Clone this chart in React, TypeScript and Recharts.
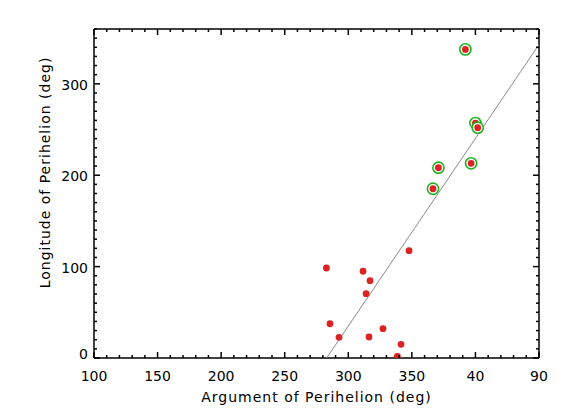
import React from 'react';
import { ScatterChart, Scatter, XAxis, YAxis } from 'recharts';

// Argument of perihelion (deg, unwrapped past 360) and longitude of perihelion (deg)
const plainArg = [282.8, 311.6, 317.1, 314.0, 347.8, 285.6, 292.7, 316.3, 327.3, 341.5, 338.6];
const plainLon = [98.5, 94.9, 84.6, 70.4, 117.4, 37.5, 22.6, 23.0, 32.1, 15.0, 1.8];

const circledArg = [392.1, 400.0, 401.8, 370.9, 396.6, 366.6];
const circledLon = [337.7, 257.1, 252.0, 208.2, 213.0, 185.2];

const fitArg = [283, 450];
const fitLon = [0, 343];

const xDomain = [100, 450];
const yDomain = [0, 360];
const xMajorTicks = [100, 150, 200, 250, 300, 350, 400, 450];
const xTickLabels = ['100', '150', '200', '250', '300', '350', '40', '90'];
const yMajorTicks = [0, 100, 200, 300];
const yTickLabels = ['0', '100', '200', '300'];

const xTitle = 'Argument of Perihelion (deg)';
const yTitle = 'Longitude of Perihelion (deg)';

const plainData = plainArg.map((x, i) => ({ x, y: plainLon[i] }));
const circledData = circledArg.map((x, i) => ({ x, y: circledLon[i] }));
const fitData = fitArg.map((x, i) => ({ x, y: fitLon[i] }));

const range = (a: number, b: number, s: number) => {
  const out: number[] = [];
  for (let v = a; v <= b + 1e-9; v += s) out.push(v);
  return out;
};
const xAllTicks = range(xDomain[0], xDomain[1], 10);
const yAllTicks = range(yDomain[0], yDomain[1], 10);

const FONT = 'DejaVu Sans, sans-serif';
const RED = '#dc2323';
const GREEN = '#21b121';
const MAJOR = 6;
const MINOR = 3;

const xLabelOf = (v: number) => {
  const i = xMajorTicks.indexOf(v);
  return i >= 0 ? xTickLabels[i] : null;
};
const yLabelOf = (v: number) => {
  const i = yMajorTicks.indexOf(v);
  return i >= 0 ? yTickLabels[i] : null;
};

const BottomTick = (props: any) => {
  const { x, y, payload } = props;
  const lab = xLabelOf(payload.value);
  const len = lab !== null ? MAJOR : MINOR;
  return (
    <g>
      <line x1={x} x2={x} y1={y} y2={y - len} stroke="#000" strokeWidth={1.5} />
      {lab !== null && (
        <text x={x} y={y + 23} textAnchor="middle" fontFamily={FONT} fontSize={14} fill="#000">
          {lab}
        </text>
      )}
    </g>
  );
};

const TopTick = (props: any) => {
  const { x, y, payload } = props;
  const len = xLabelOf(payload.value) !== null ? MAJOR : MINOR;
  return <line x1={x} x2={x} y1={y} y2={y + len} stroke="#000" strokeWidth={1.5} />;
};

const LeftTick = (props: any) => {
  const { x, y, payload } = props;
  const lab = yLabelOf(payload.value);
  const len = lab !== null ? MAJOR : MINOR;
  const dy = payload.value === yDomain[0] ? 1 : 6;
  return (
    <g>
      <line x1={x} x2={x + len} y1={y} y2={y} stroke="#000" strokeWidth={1.5} />
      {lab !== null && (
        <text x={x - 6} y={y + dy} textAnchor="end" fontFamily={FONT} fontSize={14} fill="#000">
          {lab}
        </text>
      )}
    </g>
  );
};

const RightTick = (props: any) => {
  const { x, y, payload } = props;
  const len = yLabelOf(payload.value) !== null ? MAJOR : MINOR;
  return <line x1={x} x2={x - len} y1={y} y2={y} stroke="#000" strokeWidth={1.5} />;
};

const PlainDot = (props: any) => {
  const { cx, cy } = props;
  return <circle cx={cx} cy={cy} r={3.4} fill={RED} />;
};

const CircledDot = (props: any) => {
  const { cx, cy } = props;
  return (
    <g>
      <circle cx={cx} cy={cy} r={5.6} fill="#fff" stroke={GREEN} strokeWidth={1.6} />
      <circle cx={cx} cy={cy} r={3.4} fill={RED} />
    </g>
  );
};

const NoDot = () => <g />;

const YTitle = (props: any) => {
  const vb = props.viewBox || {};
  const cx = vb.x + 11;
  const cy = vb.y + vb.height / 2 - 21;
  return (
    <text
      x={cx}
      y={cy}
      transform={`rotate(-90, ${cx}, ${cy})`}
      textAnchor="middle"
      dominantBaseline="central"
      fontFamily={FONT}
      fontSize={14}
      letterSpacing={1}
      fill="#000"
    >
      {yTitle}
    </text>
  );
};

const XTitle = (props: any) => {
  const vb = props.viewBox || {};
  const cx = vb.x + vb.width / 2;
  const cy = vb.y + 39;
  return (
    <text
      x={cx}
      y={cy}
      textAnchor="middle"
      dominantBaseline="central"
      fontFamily={FONT}
      fontSize={14}
      letterSpacing={1}
      fill="#000"
    >
      {xTitle}
    </text>
  );
};

export default function App() {
  return (
    <div style={{ position: 'absolute', left: 0, top: 0, width: 568, height: 419, background: '#fff' }}>
      <ScatterChart width={568} height={419} margin={{ top: 28, right: 28, bottom: 11, left: 34 }}>
        <XAxis
          xAxisId="b"
          dataKey="x"
          type="number"
          domain={xDomain}
          ticks={xAllTicks}
          interval={0}
          allowDataOverflow
          orientation="bottom"
          height={50}
          tickSize={0}
          tickMargin={0}
          tickLine={false}
          axisLine={{ stroke: '#000', strokeWidth: 1.5 }}
          tick={<BottomTick />}
          label={<XTitle />}
        />
        <XAxis
          xAxisId="t"
          dataKey="x"
          type="number"
          domain={xDomain}
          ticks={xAllTicks}
          interval={0}
          allowDataOverflow
          orientation="top"
          height={1}
          tickSize={0}
          tickMargin={0}
          tickLine={false}
          axisLine={{ stroke: '#000', strokeWidth: 1.5 }}
          tick={<TopTick />}
        />
        <YAxis
          yAxisId="l"
          dataKey="y"
          type="number"
          domain={yDomain}
          ticks={yAllTicks}
          interval={0}
          allowDataOverflow
          orientation="left"
          width={60}
          tickSize={0}
          tickMargin={0}
          tickLine={false}
          axisLine={{ stroke: '#000', strokeWidth: 1.5 }}
          tick={<LeftTick />}
          label={<YTitle />}
        />
        <YAxis
          yAxisId="r"
          dataKey="y"
          type="number"
          domain={yDomain}
          ticks={yAllTicks}
          interval={0}
          allowDataOverflow
          orientation="right"
          width={1}
          tickSize={0}
          tickMargin={0}
          tickLine={false}
          axisLine={{ stroke: '#000', strokeWidth: 1.5 }}
          tick={<RightTick />}
        />
        <Scatter xAxisId="t" yAxisId="r" data={fitData} shape={<NoDot />} isAnimationActive={false} />
        <Scatter
          xAxisId="b"
          yAxisId="l"
          data={fitData}
          line={{ stroke: '#8c8c8c', strokeWidth: 1 }}
          lineType="joint"
          shape={<NoDot />}
          isAnimationActive={false}
        />
        <Scatter xAxisId="b" yAxisId="l" data={plainData} shape={<PlainDot />} isAnimationActive={false} />
        <Scatter xAxisId="b" yAxisId="l" data={circledData} shape={<CircledDot />} isAnimationActive={false} />
      </ScatterChart>
    </div>
  );
}
